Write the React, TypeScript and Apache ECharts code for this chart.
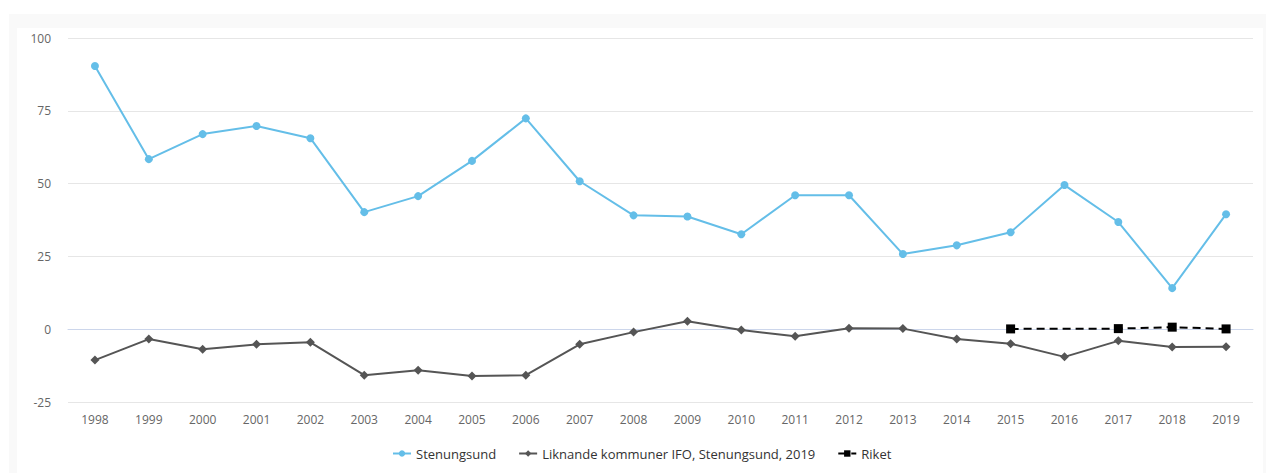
import React, { useEffect, useRef } from "react";
import * as echarts from "echarts";

const years = ["1998","1999","2000","2001","2002","2003","2004","2005","2006","2007","2008","2009","2010","2011","2012","2013","2014","2015","2016","2017","2018","2019"];
const stenungsund = [90.4, 58.4, 67.0, 69.8, 65.6, 40.2, 45.7, 57.8, 72.4, 50.8, 39.1, 38.7, 32.6, 46.0, 46.0, 25.8, 28.8, 33.3, 49.5, 36.8, 14.1, 39.5];
const liknande = [-10.6, -3.4, -6.9, -5.2, -4.5, -15.8, -14.1, -16.1, -15.8, -5.2, -1.0, 2.7, -0.3, -2.4, 0.3, 0.2, -3.4, -5.0, -9.5, -4.0, -6.1, -6.0];
const riket = [null, null, null, null, null, null, null, null, null, null, null, null, null, null, null, null, null, 0.1, null, 0.2, 0.7, 0.1];
const yTicks = { min: -25, max: 100, interval: 25 };

export default function App() {
  const ref = useRef<HTMLDivElement>(null);
  useEffect(() => {
    if (!ref.current) return;
    const chart = echarts.init(ref.current, undefined, { renderer: "svg" });
    const font = "'Open Sans', 'Noto Sans', sans-serif";
    chart.setOption({
      animation: false,
      textStyle: { fontFamily: font },
      grid: { left: 68, right: 13, top: 38, bottom: 71, containLabel: false },
      legend: {
        bottom: 8,
        left: 387,
        itemWidth: 18,
        itemHeight: 8,
        itemGap: 22,
        textStyle: { color: "#333", fontSize: 13, fontFamily: font },
        data: ["Stenungsund", "Liknande kommuner IFO, Stenungsund, 2019", "Riket"],
      },
      xAxis: {
        type: "category",
        data: years,
        boundaryGap: true,
        axisLine: { lineStyle: { color: "#ccd6eb" } },
        axisTick: { show: false },
        axisLabel: { color: "#666", fontSize: 12, margin: 11, fontFamily: font },
        splitLine: { show: false },
      },
      yAxis: {
        type: "value",
        min: yTicks.min,
        max: yTicks.max,
        interval: yTicks.interval,
        axisLine: { show: false },
        axisTick: { show: false },
        axisLabel: { color: "#666", fontSize: 12, margin: 17, fontFamily: font },
        splitLine: { lineStyle: { color: "#e6e6e6" } },
      },
      series: [
        {
          name: "Stenungsund",
          type: "line",
          data: stenungsund,
          symbol: "circle",
          symbolSize: 8,
          lineStyle: { color: "#64bee8", width: 2 },
          itemStyle: { color: "#64bee8" },
          z: 3,
        },
        {
          name: "Liknande kommuner IFO, Stenungsund, 2019",
          type: "line",
          data: liknande,
          symbol: "diamond",
          symbolSize: 9,
          lineStyle: { color: "#555555", width: 2 },
          itemStyle: { color: "#555555" },
          z: 2,
        },
        {
          name: "Riket",
          type: "line",
          data: riket,
          connectNulls: true,
          symbol: "rect",
          symbolSize: 9,
          lineStyle: { color: "#000", width: 2, type: [8, 5] },
          itemStyle: { color: "#000" },
          z: 4,
        },
      ],
    });
    return () => chart.dispose();
  }, []);
  return (
    <div style={{ position: "fixed", left: 0, top: 0, width: 1266, height: 473, background: "#fff" }}>
      <div style={{ position: "absolute", left: 9, top: 14, width: 1257, height: 459, background: "#f9f9f9" }} />
      <div style={{ position: "absolute", left: 17, top: 28, width: 1246, height: 445, background: "#fff" }} />
      <div ref={ref} style={{ position: "absolute", left: 0, top: 0, width: 1266, height: 473 }} />
    </div>
  );
}
